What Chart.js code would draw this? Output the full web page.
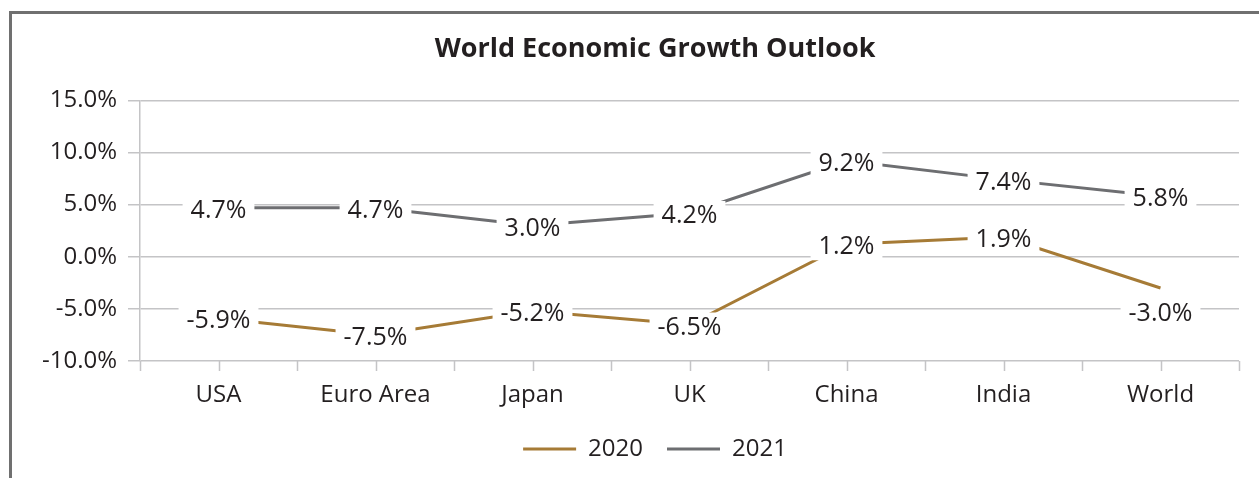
<!DOCTYPE html>
<html lang="en">
<head>
  <meta charset="UTF-8">
  <title>World Economic Growth Outlook</title>
  <script src="https://cdn.jsdelivr.net/npm/chart.js"></script>
  <style>
    html, body { margin: 0; padding: 0; background: #fff; }
    .chart-container { position: relative; width: 1259px; height: 478px; }
  </style>
</head>
<body>
  <div class="chart-container">
    <canvas id="growthChart"></canvas>
  </div>
  <script>
    const regions = ['USA', 'Euro Area', 'Japan', 'UK', 'China', 'India', 'World'];
    const growth2020 = [-5.9, -7.5, -5.2, -6.5, 1.2, 1.9, -3.0];
    const growth2021 = [4.7, 4.7, 3.0, 4.2, 9.2, 7.4, 5.8];
    const seriesNames = ['2020', '2021'];

    const textColor = '#231f20';
    const gridColor = '#c4c4c6';
    Chart.defaults.font.family = "'Open Sans', sans-serif";
    Chart.defaults.font.size = 24;
    Chart.defaults.color = textColor;

    // outer frame of the figure (only top and left edges are visible)
    const framePlugin = {
      id: 'frame',
      beforeDraw(chart) {
        const ctx = chart.ctx;
        ctx.save();
        ctx.fillStyle = '#fff';
        ctx.fillRect(0, 0, chart.width, chart.height);
        ctx.strokeStyle = '#707070';
        ctx.lineWidth = 3;
        ctx.beginPath();
        ctx.moveTo(10.5, chart.height);
        ctx.lineTo(10.5, 12.5);
        ctx.lineTo(chart.width, 12.5);
        ctx.stroke();
        ctx.restore();
      },
      // title and legend are centred over the plot, not the whole canvas
      afterLayout(chart) {
        if (chart.titleBlock) chart.titleBlock.left = 71;
        if (chart.legend) chart.legend.left = 71;
      }
    };

    // small tick marks under the x axis, every half category
    const xTicksPlugin = {
      id: 'xTicks',
      afterDraw(chart) {
        const x = chart.scales.x;
        const bottom = chart.chartArea.bottom;
        const ctx = chart.ctx;
        ctx.save();
        ctx.strokeStyle = gridColor;
        ctx.lineWidth = 1.5;
        ctx.beginPath();
        for (let v = -0.5; v <= regions.length - 0.5; v += 0.5) {
          const px = Math.round(x.getPixelForValue(v)) + 0.5;
          ctx.moveTo(px, bottom);
          ctx.lineTo(px, bottom + 10);
        }
        ctx.stroke();
        ctx.restore();
      }
    };

    // value labels with a white box that hides the line behind them
    const labelShift = { '0-6': 23 };
    const valueLabels = {
      id: 'valueLabels',
      afterDatasetsDraw(chart) {
        const ctx = chart.ctx;
        ctx.save();
        ctx.font = "25px 'Open Sans', sans-serif";
        ctx.textAlign = 'center';
        ctx.textBaseline = 'middle';
        chart.data.datasets.forEach((ds, di) => {
          const meta = chart.getDatasetMeta(di);
          meta.data.forEach((pt, i) => {
            const txt = ds.data[i].toFixed(1) + '%';
            const y = pt.y + 2 + (labelShift[di + '-' + i] || 0);
            const w = ctx.measureText(txt).width + 16;
            ctx.fillStyle = '#fff';
            ctx.fillRect(pt.x - w / 2, y - 14, w, 28);
            ctx.fillStyle = textColor;
            ctx.fillText(txt, pt.x, y + 1);
          });
        });
        ctx.restore();
      }
    };

    new Chart(document.getElementById('growthChart'), {
      type: 'line',
      data: {
        labels: regions,
        datasets: [{
          label: seriesNames[0],
          data: growth2020,
          borderColor: '#a67b36',
          backgroundColor: '#a67b36',
          borderWidth: 3,
          pointRadius: 0,
          tension: 0
        }, {
          label: seriesNames[1],
          data: growth2021,
          borderColor: '#6d6e71',
          backgroundColor: '#6d6e71',
          borderWidth: 3,
          pointRadius: 0,
          tension: 0
        }]
      },
      options: {
        responsive: true,
        maintainAspectRatio: false,
        animation: false,
        layout: { padding: { left: 10, right: 20, top: 33, bottom: 7 } },
        scales: {
          x: {
            offset: true,
            grid: { display: false },
            border: { display: false },
            ticks: { padding: 12, color: textColor },
            afterFit: s => { s.height = 52; }
          },
          y: {
            min: -10,
            max: 15,
            ticks: {
              stepSize: 5,
              padding: 11,
              color: textColor,
              callback: v => v.toFixed(1) + '%'
            },
            grid: { color: gridColor, lineWidth: 1.5, tickLength: 12 },
            border: { color: gridColor, width: 1.5 },
            afterFit: s => { s.width = 130; }
          }
        },
        plugins: {
          title: {
            display: true,
            text: 'World Economic Growth Outlook',
            color: textColor,
            font: { size: 27, weight: 'bold' },
            padding: { top: 0, bottom: 35 }
          },
          legend: {
            position: 'bottom',
            labels: {
              usePointStyle: true,
              pointStyle: 'line',
              pointStyleWidth: 53,
              padding: 24,
              color: textColor
            }
          },
          tooltip: { enabled: false }
        }
      },
      plugins: [framePlugin, xTicksPlugin, valueLabels]
    });
  </script>
</body>
</html>
